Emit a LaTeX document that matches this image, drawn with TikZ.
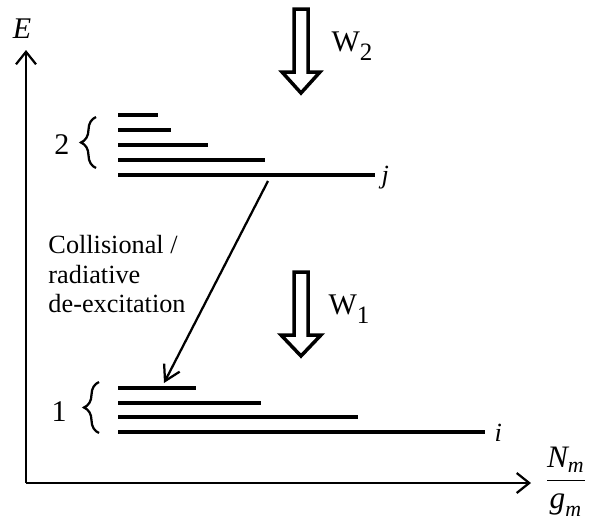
\documentclass[tikz,border=0pt]{standalone}
\usepackage{fontspec}
\setmainfont{Liberation Serif}
\usepackage{amsmath}
\usetikzlibrary{arrows.meta, decorations.pathreplacing}

\begin{document}
\begin{tikzpicture}[
    x=0.4pt, y=-0.4pt,
    axis/.style={line width=0.9pt, -{Straight Barb[length=5pt, width=8pt, line width=0.9pt]}},
    levelline/.style={line width=1.9pt},
    hollow/.style={line width=1.4pt, line join=miter},
    trans/.style={line width=0.9pt, -{Straight Barb[length=6pt, width=7pt, line width=0.9pt]}},
    lbl/.style={font=\fontsize{10.5}{11.8}\selectfont, inner sep=0pt},
    grp/.style={decorate, decoration={brace, amplitude=6pt}, line width=0.9pt},
]
\useasboundingbox (0,0) rectangle (594,521);

% axes
\coordinate (origin) at (26,483);
\coordinate (ytip) at (26,50);
\coordinate (xtip) at (531,483);
\draw[axis] (origin) -- (ytip);
\draw[axis] (origin) -- (xtip);
\node[lbl, font=\large] (elab) at (22,29) {\textit{E}};
\node[lbl, font=\fontsize{12.5}{14}\selectfont] (nlab) at (566,482) {$\dfrac{\textit{N}_{\textit{m}}}{\textit{g}_{\textit{m}}}$};

% upper group 2
\foreach \y/\xe in {115/158, 130/171, 145/208, 160/265, 175/375}
    \draw[levelline] (118,\y) -- (\xe,\y);
\draw[grp] (96,168) -- (96,117);
\node[lbl, font=\large] (two) at (62,145) {2};
\node[lbl, anchor=west] (jlab) at (381,178) {\textit{j}};

% lower group 1
\foreach \y/\xe in {388/196, 403/261, 417/358, 432/485}
    \draw[levelline] (118,\y) -- (\xe,\y);
\draw[grp] (99,433) -- (99,382);
\node[lbl, font=\large] (one) at (59,412) {1};
\node[lbl, anchor=west] (ilab) at (494,433) {\textit{i}};

% pumping arrows
\draw[hollow] (294,9) -- (308,9) -- (308,72) -- (320,72) -- (301,93) -- (282,72) -- (294,72) -- cycle;
\node[lbl, font=\large] (wtwo) at (352,46) {W\raisebox{-0.7ex}{\normalsize 2}};
\draw[hollow] (294,272) -- (308,272) -- (308,335) -- (321,335) -- (301,356) -- (281,335) -- (294,335) -- cycle;
\node[lbl, font=\large] (wone) at (349,309) {W\raisebox{-0.7ex}{\normalsize 1}};

% de-excitation
\coordinate (upper) at (268,181);
\coordinate (lower) at (164,383);
\draw[trans] (upper) -- (lower);
\node[lbl, anchor=north west, align=left] (deexc) at (48,235) {Collisional /\\radiative\\de-excitation};

\end{tikzpicture}
\end{document}
